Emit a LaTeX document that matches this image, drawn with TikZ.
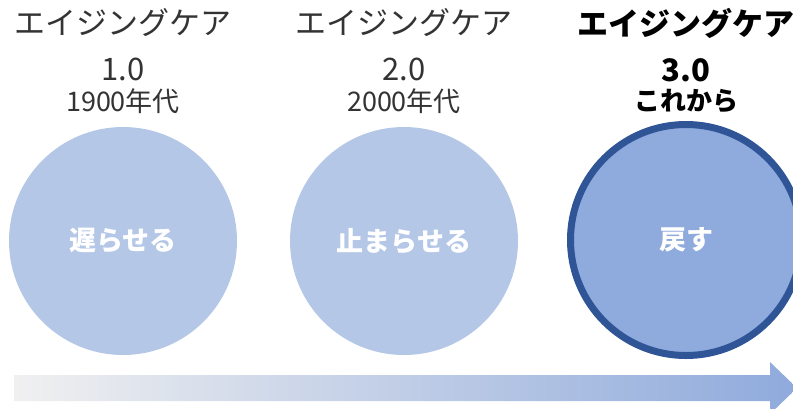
\documentclass[tikz,border=0pt]{standalone}
\usepackage{fontspec}
\setmainfont{Noto Sans CJK JP}
\definecolor{pale}{HTML}{B4C7E7}
\definecolor{mid}{HTML}{8FAADC}
\definecolor{deep}{HTML}{2F5597}
\definecolor{ink}{HTML}{333333}
\definecolor{mist}{HTML}{F0F0F0}
\tikzset{
  stage/.style={circle, minimum size=228pt, inner sep=0pt, fill=pale,
    text=white, font=\fontsize{27}{30}\selectfont\bfseries},
  era/.style={align=center, text=ink, inner sep=0pt,
    font=\fontsize{31}{46}\selectfont},
  sub/.style={text=ink, inner sep=0pt, font=\fontsize{27}{30}\selectfont}
}

\begin{document}
\begin{tikzpicture}[x=1pt, y=-1pt]
  \useasboundingbox (0,0) rectangle (793,408);
  % circles
  \node[stage] (slow) at (123,241) {遅らせる};
  \node[stage] (stop) at (404,241) {止まらせる};
  \node[stage, fill=mid, draw=deep, line width=7pt, minimum size=231pt] (back) at (686,240) {戻す};
  % headings
  \node[era] (t1) at (123,45) {エイジングケア\\1.0};
  \node[sub] (d1) at (123,101) {1900年代};
  \node[era] (t2) at (404,45) {エイジングケア\\2.0};
  \node[sub] (d2) at (404,101) {2000年代};
  \node[era, text=black, font=\fontsize{31}{46}\selectfont\bfseries] (t3) at (686,45) {エイジングケア\\3.0};
  \node[sub, text=black, font=\fontsize{26}{30}\selectfont\bfseries] (d3) at (686,101) {これから};
  % time arrow
  \shade[left color=mist, right color=mid]
    (14,375) -- (770,375) -- (770,362) -- (797,388) -- (770,414)
    -- (770,401) -- (14,401) -- cycle;
\end{tikzpicture}
\end{document}
